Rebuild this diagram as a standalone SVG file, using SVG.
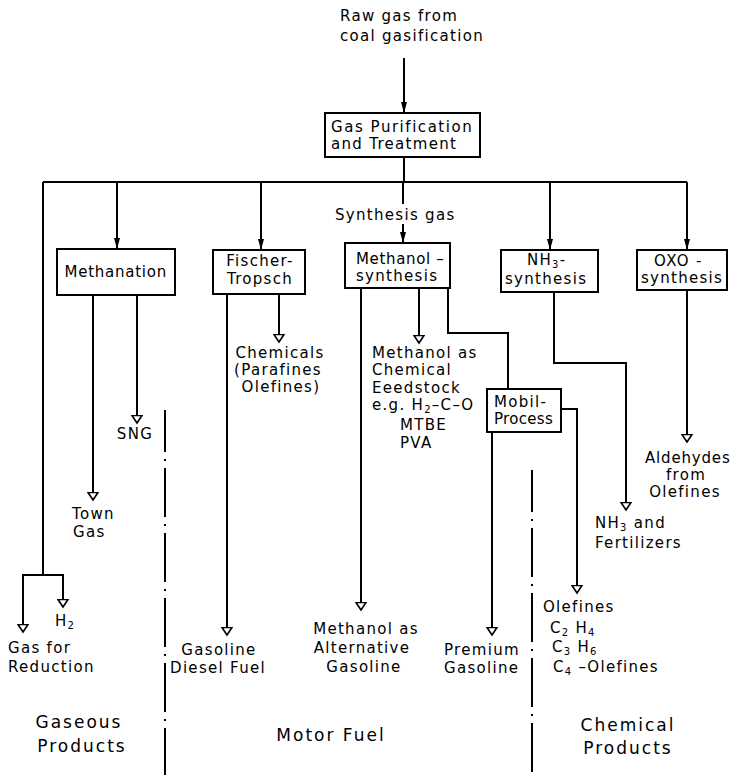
<svg xmlns="http://www.w3.org/2000/svg" width="734" height="775" viewBox="0 0 734 775">
<defs>
<style>
.t{font-family:"DejaVu Sans","Liberation Sans",sans-serif;font-size:15px;letter-spacing:1.3px;fill:#000}
.big{font-size:17px;letter-spacing:2px}
.c{text-anchor:middle}
.sub{font-size:10px}
.box{fill:#fff;stroke:#000;stroke-width:2}
.ln{fill:none;stroke:#000;stroke-width:2}
.sep{fill:none;stroke:#000;stroke-width:2;stroke-dasharray:49 7 2 7;stroke-dashoffset:7}
</style>
<!-- solid arrowhead used for feeds into process boxes -->
<marker id="fa" markerUnits="userSpaceOnUse" markerWidth="11" markerHeight="7" viewBox="0 0 11 7" refX="11" refY="3.5" orient="auto">
<path d="M0,0.5 L11,3.5 L0,6.5 z" fill="#000"/>
</marker>
<!-- hollow arrowhead used for products -->
<marker id="oa" markerUnits="userSpaceOnUse" markerWidth="10" markerHeight="12" viewBox="0 0 10 12" refX="8.5" refY="6" orient="auto">
<path d="M1,1 L8.5,6 L1,11 z" fill="#fff" stroke="#000" stroke-width="1.6"/>
</marker>
</defs>
<rect width="734" height="775" fill="#fff"/>

<g id="connectors">
<path class="ln" d="M404,58 V113" marker-end="url(#fa)"/>
<path class="ln" d="M404,157 V182"/>
<path class="ln" d="M43,182 H687"/>
<path class="ln" d="M43,182 V575 M22,575 H64"/>
<path class="ln" d="M23,575 V632" marker-end="url(#oa)"/>
<path class="ln" d="M63,575 V607" marker-end="url(#oa)"/>
<path class="ln" d="M117,182 V249" marker-end="url(#fa)"/>
<path class="ln" d="M261,182 V250" marker-end="url(#fa)"/>
<path class="ln" d="M403,182 V204"/>
<path class="ln" d="M403,224 V243" marker-end="url(#fa)"/>
<path class="ln" d="M550,182 V250" marker-end="url(#fa)"/>
<path class="ln" d="M687,182 V250" marker-end="url(#fa)"/>
<path class="ln" d="M93,295 V500" marker-end="url(#oa)"/>
<path class="ln" d="M137,295 V423" marker-end="url(#oa)"/>
<path class="ln" d="M227,294 V635" marker-end="url(#oa)"/>
<path class="ln" d="M279,294 V342" marker-end="url(#oa)"/>
<path class="ln" d="M361,288 V610" marker-end="url(#oa)"/>
<path class="ln" d="M419,288 V343" marker-end="url(#oa)"/>
<path class="ln" d="M448,288 V333 H508 V389"/>
<path class="ln" d="M492,432 V635" marker-end="url(#oa)"/>
<path class="ln" d="M561,409 H577 V593" marker-end="url(#oa)"/>
<path class="ln" d="M554,292 V363 H626 V510" marker-end="url(#oa)"/>
<path class="ln" d="M687,290 V442" marker-end="url(#oa)"/>
<!-- section dividers -->
<path class="sep" d="M165,410 V775"/>
<path class="sep" d="M532,470 V775"/>
</g>

<g id="raw-gas">
<text class="t" x="340" y="21">Raw gas from</text>
<text class="t" x="340" y="41">coal gasification</text>
</g>

<g id="purification">
<rect class="box" x="325" y="113" width="155" height="44"/>
<text class="t" x="331" y="132" textLength="142" lengthAdjust="spacing">Gas Purification</text>
<text class="t" x="331" y="149">and Treatment</text>
</g>

<g id="synthesis-gas">
<text class="t" x="335" y="220">Synthesis gas</text>
</g>

<g id="methanation">
<rect class="box" x="57" y="249" width="118" height="46"/>
<text class="t c" x="116" y="277" textLength="103" lengthAdjust="spacing">Methanation</text>
</g>

<g id="fischer-tropsch">
<rect class="box" x="213" y="250" width="92" height="44"/>
<text class="t c" x="260" y="266">Fischer-</text>
<text class="t c" x="260" y="284">Tropsch</text>
</g>

<g id="methanol-synthesis">
<rect class="box" x="345" y="243" width="105" height="45"/>
<text class="t" x="356" y="264" textLength="89" lengthAdjust="spacing">Methanol –</text>
<text class="t" x="356" y="281">synthesis</text>
</g>

<g id="nh3-synthesis">
<rect class="box" x="501" y="250" width="97" height="42"/>
<text class="t" x="527" y="265">NH<tspan class="sub" dy="3">3</tspan><tspan dy="-3">-</tspan></text>
<text class="t" x="505" y="284">synthesis</text>
</g>

<g id="oxo-synthesis">
<rect class="box" x="637" y="250" width="90" height="40"/>
<text class="t" x="654" y="266">OXO -</text>
<text class="t" x="641" y="283" textLength="82" lengthAdjust="spacing">synthesis</text>
</g>

<g id="mobil-process">
<rect class="box" x="487" y="389" width="74" height="43"/>
<text class="t" x="494" y="407">Mobil-</text>
<text class="t" x="494" y="424" textLength="60" lengthAdjust="spacing">Process</text>
</g>

<g id="sng">
<text class="t c" x="135" y="439">SNG</text>
</g>

<g id="town-gas">
<text class="t" x="72" y="519">Town</text>
<text class="t" x="73" y="537">Gas</text>
</g>

<g id="h2">
<text class="t" x="55" y="626">H<tspan class="sub" dy="3">2</tspan></text>
</g>

<g id="gas-for-reduction">
<text class="t" x="8" y="653">Gas for</text>
<text class="t" x="8" y="672">Reduction</text>
</g>

<g id="ft-chemicals">
<text class="t c" x="280" y="358">Chemicals</text>
<text class="t c" x="278" y="375">(Parafines</text>
<text class="t c" x="281" y="392">Olefines)</text>
</g>

<g id="methanol-feedstock">
<text class="t" x="372" y="358">Methanol as</text>
<text class="t" x="372" y="375">Chemical</text>
<text class="t" x="372" y="393">Eeedstock</text>
<text class="t" x="372" y="410">e.g. H<tspan class="sub" dy="3">2</tspan><tspan dy="-3">–C–O</tspan></text>
<text class="t" x="400" y="430">MTBE</text>
<text class="t" x="400" y="448">PVA</text>
</g>

<g id="gasoline-diesel">
<text class="t c" x="219" y="655">Gasoline</text>
<text class="t c" x="218" y="673">Diesel Fuel</text>
</g>

<g id="methanol-gasoline">
<text class="t c" x="366" y="634">Methanol as</text>
<text class="t c" x="362" y="653">Alternative</text>
<text class="t c" x="364" y="672">Gasoline</text>
</g>

<g id="premium-gasoline">
<text class="t" x="444" y="655">Premium</text>
<text class="t" x="444" y="673">Gasoline</text>
</g>

<g id="olefines">
<text class="t" x="543" y="612">Olefines</text>
<text class="t" x="550" y="633">C<tspan class="sub" dy="3">2</tspan><tspan dy="-3"> H</tspan><tspan class="sub" dy="3">4</tspan></text>
<text class="t" x="552" y="652">C<tspan class="sub" dy="3">3</tspan><tspan dy="-3"> H</tspan><tspan class="sub" dy="3">6</tspan></text>
<text class="t" x="553" y="672">C<tspan class="sub" dy="3">4</tspan><tspan dy="-3"> –Olefines</tspan></text>
</g>

<g id="nh3-fertilizers">
<text class="t" x="595" y="528">NH<tspan class="sub" dy="3">3</tspan><tspan dy="-3"> and</tspan></text>
<text class="t" x="595" y="548">Fertilizers</text>
</g>

<g id="aldehydes">
<text class="t c" x="688" y="463" textLength="86" lengthAdjust="spacing">Aldehydes</text>
<text class="t c" x="686" y="480">from</text>
<text class="t c" x="685" y="497">Olefines</text>
</g>

<g id="gaseous-products">
<text class="t big c" x="79" y="728">Gaseous</text>
<text class="t big c" x="82" y="752">Products</text>
</g>

<g id="motor-fuel">
<text class="t big c" x="331" y="741">Motor  Fuel</text>
</g>

<g id="chemical-products">
<text class="t big c" x="628" y="731">Chemical</text>
<text class="t big c" x="628" y="754">Products</text>
</g>
</svg>
